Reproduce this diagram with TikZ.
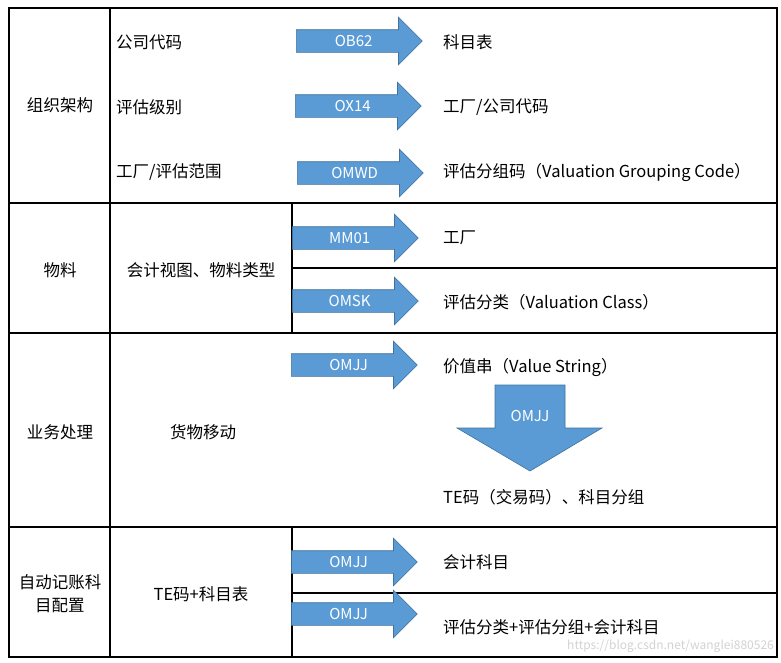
\documentclass[tikz,border=0pt]{standalone}
\usepackage{fontspec}
\setmainfont{Noto Sans CJK SC}
\usepackage{xcolor}
\usepackage{tikz}
\usetikzlibrary{shapes,arrows,positioning}
\tikzset{
  font={\fontsize{16.5pt}{20}\selectfont}
}
\definecolor{colorA}{RGB}{91,155,213}
\definecolor{colorE}{RGB}{65,113,156}
\tikzstyle{grid}=[draw, line width=1.6pt]
\tikzstyle{txt}=[inner sep=0pt, anchor=west]
\tikzstyle{lab}=[inner sep=0pt, align=center]
\tikzstyle{code}=[single arrow, draw=colorE, fill=colorA, text=white, line width=0.6pt,
  anchor=tail, minimum height=126pt, single arrow head extend=12.5pt,
  inner ysep=5.5pt, text height=10.5pt, text depth=0.5pt,
  font={\fontsize{15pt}{17}\selectfont}]

\begin{document}
\begin{tikzpicture}[x=1pt, y=-1pt]
\useasboundingbox (0,0) rectangle (781,662);

%%% Table
\draw[grid] (9,8) rectangle (777,657);
\draw[grid] (9,203) -- (777,203);
\draw[grid] (9,333) -- (777,333);
\draw[grid] (9,527) -- (777,527);
\draw[grid] (110,8) -- (110,657);
\draw[grid] (292,203) -- (292,333);
\draw[grid] (292,527) -- (292,657);
\draw[grid] (292,268) -- (777,268);
\draw[grid] (292,593) -- (777,593);

%%% Left column
\node[lab] (org) at (60,105) {组织架构};
\node[lab] (mat) at (60,270) {物料};
\node[lab] (biz) at (60,432) {业务处理};
\node[lab] (post) at (60,594) {自动记账科\\[3pt]目配置};

%%% Middle column
\node[txt] (comp) at (116,42) {公司代码};
\node[txt] (vlevel) at (116,107) {评估级别};
\node[txt] (plant) at (116,172) {工厂/评估范围};
\node[lab] (view) at (201,270) {会计视图、物料类型};
\node[lab] (move) at (203,432) {货物移动};
\node[lab] (tecoa) at (201,594) {TE码+科目表};

%%% Arrows
\node[code] (ob62) at (296,41) {OB62};
\node[code] (ox14) at (295,106) {OX14};
\node[code] (omwd) at (297,173) {OMWD};
\node[code] (mm01) at (292,238) {MM01};
\node[code] (omsk) at (292,301) {OMSK};
\node[code] (omjj_a) at (291,365) {OMJJ};
\node[code] (omjj_c) at (291,562) {OMJJ};
\node[code] (omjj_d) at (291,614) {OMJJ};

\draw[fill=colorA, draw=colorE, line width=0.6pt]
  (495,385) -- (565,385) -- (565,428) -- (602,428) -- (530,471)
  -- (457,428) -- (495,428) -- cycle;
\node[lab, text=white, font={\fontsize{15pt}{17}\selectfont}] (omjj_b) at (530,416) {OMJJ};

%%% Right column
\node[txt] (coa) at (443,42) {科目表};
\node[txt] (plantcomp) at (443,107) {工厂/公司代码};
\node[txt] (vgc) at (443,172) {评估分组码（Valuation Grouping Code）};
\node[txt] (plant2) at (443,238) {工厂};
\node[txt] (vclass) at (443,302) {评估分类（Valuation Class）};
\node[txt] (vstring) at (443,367) {价值串（Value String）};
\node[txt] (tekey) at (443,497) {TE码（交易码）、科目分组};
\node[txt] (gl) at (443,562) {会计科目};
\node[txt] (combo) at (443,627) {评估分类+评估分组+会计科目};

\node[inner sep=0pt, anchor=east, text=gray!35, font={\fontsize{12pt}{14}\selectfont}] (wm) at (774,646) {https://blog.csdn.net/wanglei880526};

\end{tikzpicture}
\end{document}
